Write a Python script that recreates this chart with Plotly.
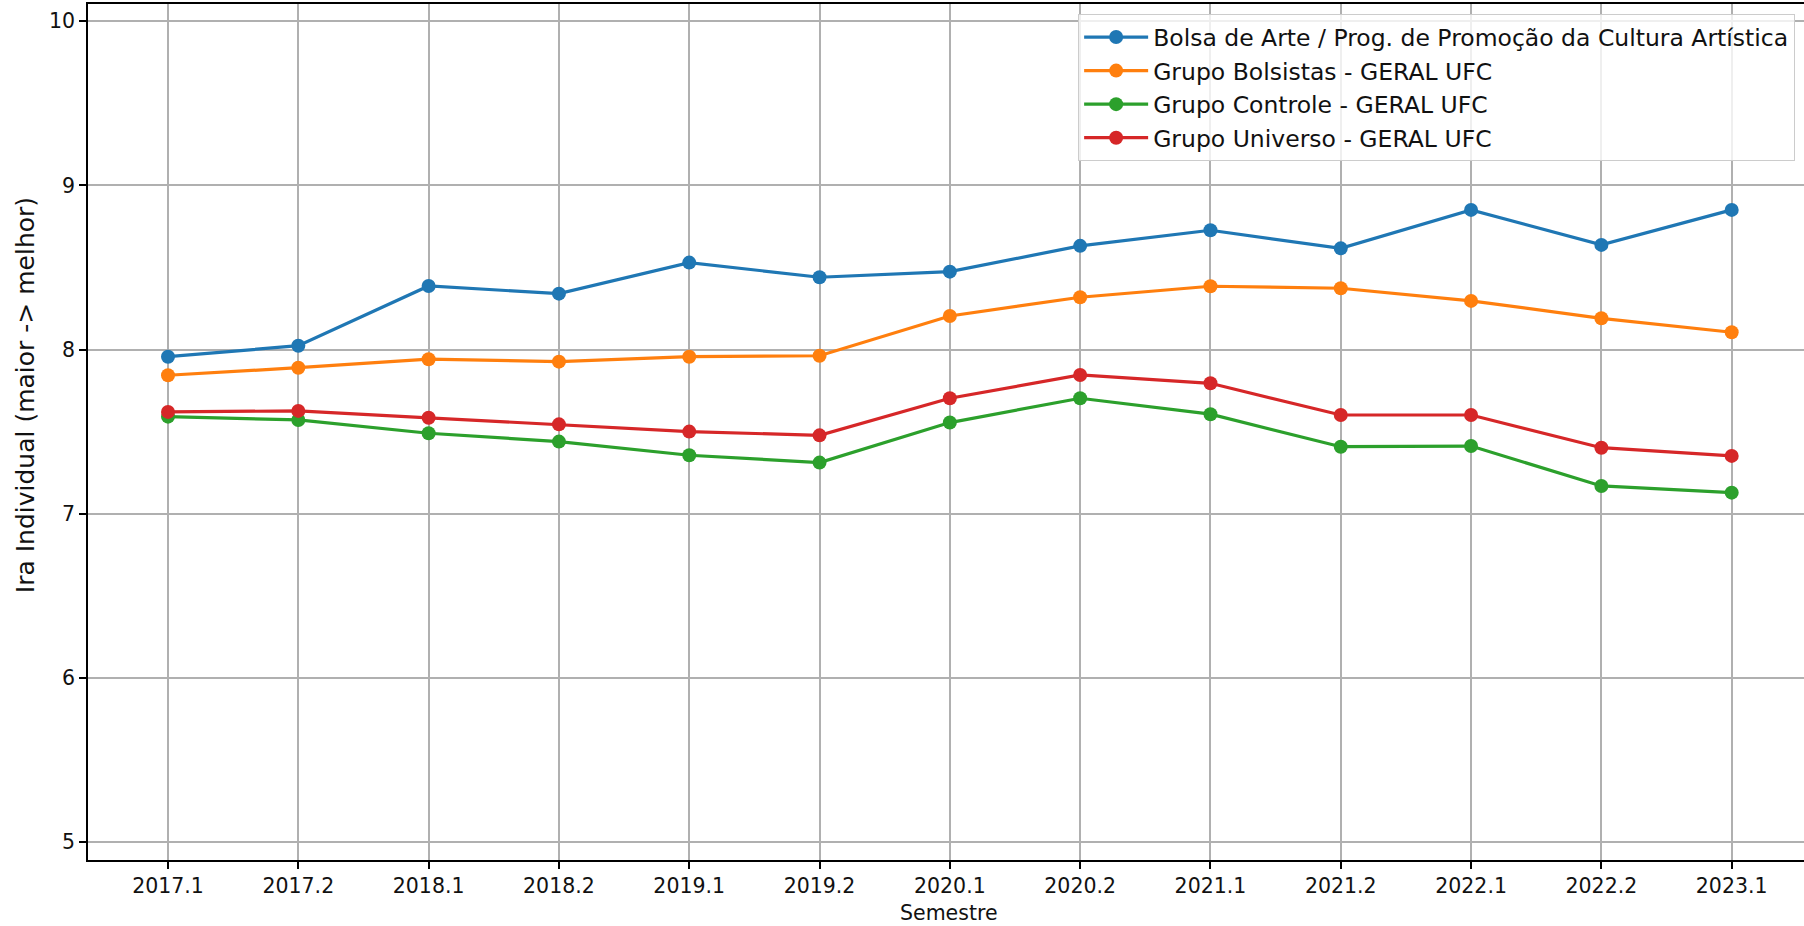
import plotly.graph_objects as go

semestres = ["2017.1", "2017.2", "2018.1", "2018.2", "2019.1", "2019.2", "2020.1",
             "2020.2", "2021.1", "2021.2", "2022.1", "2022.2", "2023.1"]

bolsa_arte = [7.957, 8.024, 8.388, 8.341, 8.530, 8.441, 8.475, 8.632, 8.727, 8.617, 8.851, 8.638, 8.851]
bolsistas = [7.844, 7.890, 7.942, 7.927, 7.957, 7.963, 8.205, 8.319, 8.386, 8.374, 8.297, 8.191, 8.106]
controle = [7.592, 7.572, 7.491, 7.440, 7.357, 7.312, 7.556, 7.704, 7.607, 7.409, 7.413, 7.170, 7.129]
universo = [7.621, 7.627, 7.585, 7.545, 7.501, 7.478, 7.704, 7.846, 7.795, 7.602, 7.602, 7.403, 7.353]

series_names = [
    "Bolsa de Arte / Prog. de Promoção da Cultura Artística",
    "Grupo Bolsistas - GERAL UFC",
    "Grupo Controle - GERAL UFC",
    "Grupo Universo - GERAL UFC",
]
series_values = [bolsa_arte, bolsistas, controle, universo]
colors = ["#1f77b4", "#ff7f0e", "#2ca02c", "#d62728"]

y_ticks = [5, 6, 7, 8, 9, 10]

FONT = "DejaVu Sans"
TXT = "#111111"

fig = go.Figure()
for i, (name, vals, col) in enumerate(zip(series_names, series_values, colors)):
    fig.add_trace(go.Scatter(
        x=list(range(len(semestres))), y=vals, name=name, mode="lines+markers",
        line=dict(color=col, width=3.2),
        marker=dict(color=col, size=14),
        legendgroup=f"g{i}",
    ))

fig.update_layout(
    width=1804, height=926,
    margin=dict(l=88, r=0, t=4, b=66),
    paper_bgcolor="white", plot_bgcolor="white",
    font=dict(family=FONT, size=20.5, color=TXT),
    showlegend=True,
    legend=dict(
        x=0.577, y=0.988, xanchor="left", yanchor="top",
        bgcolor="rgba(255,255,255,0.8)", bordercolor="#cccccc", borderwidth=1,
        font=dict(family=FONT, size=23.5, color=TXT),
        traceorder="grouped", tracegroupgap=0, itemwidth=64,
    ),
    annotations=[
        dict(text="Semestre", xref="paper", yref="paper", x=0.5017, y=-0.0619,
             xanchor="center", yanchor="middle", showarrow=False,
             font=dict(family=FONT, size=20.5, color=TXT)),
        dict(text="Ira Individual (maior -> melhor)", xref="paper", yref="paper",
             x=-0.0367, y=0.543, xanchor="center", yanchor="middle", textangle=-90,
             showarrow=False, font=dict(family=FONT, size=25, color=TXT)),
    ],
)

fig.update_xaxes(
    tickmode="array", tickvals=list(range(len(semestres))), ticktext=semestres,
    range=[-0.614, 12.555], automargin=False,
    showgrid=True, gridcolor="#b0b0b0", gridwidth=1.6,
    showline=True, linecolor="black", linewidth=1.6, mirror=True,
    ticks="outside", ticklen=7, tickwidth=1.6, tickcolor="black",
    zeroline=False,
)
fig.update_yaxes(
    tickmode="array", tickvals=y_ticks, ticktext=[str(t) for t in y_ticks],
    range=[4.892, 10.105], automargin=False,
    showgrid=True, gridcolor="#b0b0b0", gridwidth=1.6,
    showline=True, linecolor="black", linewidth=1.6, mirror=False,
    ticks="outside", ticklen=7, tickwidth=1.6, tickcolor="black",
    zeroline=False,
)

fig.write_html(
    "out.html",
    config={"displayModeBar": False},
    post_script="document.body.style.margin='0';document.body.style.overflow='hidden';",
)
